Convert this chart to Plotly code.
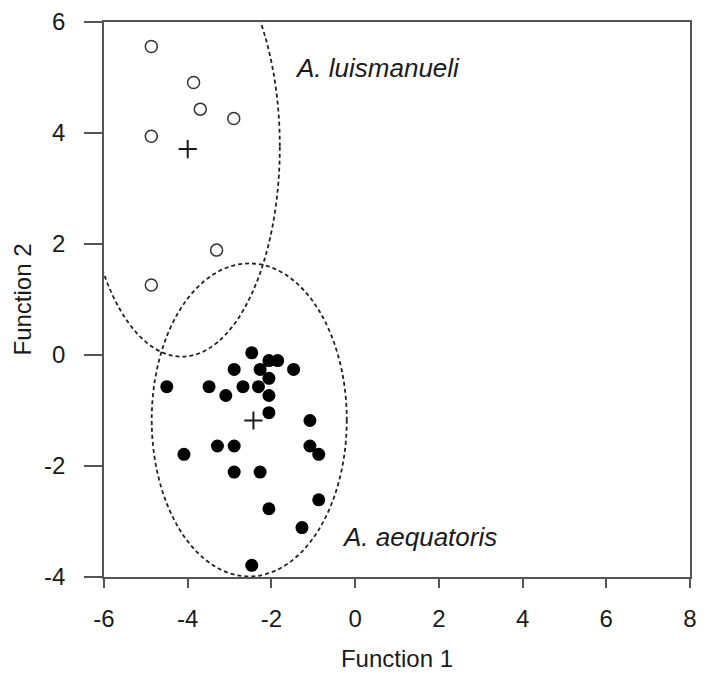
import plotly.graph_objects as go

# --- Data ---
# A. luismanueli (open circles)
lui_x = [-4.87, -3.86, -3.70, -2.90, -4.87, -3.31, -4.87]
lui_y = [5.56, 4.91, 4.43, 4.26, 3.94, 1.89, 1.26]
lui_centroid_x = [-4.00]
lui_centroid_y = [3.71]

# A. aequatoris (filled circles)
aeq_x = [-4.50, -3.49, -3.09, -2.89, -2.68, -2.47, -2.31, -2.27, -2.06, -1.85,
         -2.06, -2.06, -2.06, -1.47, -1.08, -4.09, -3.29, -2.89, -1.08, -0.87,
         -2.89, -2.27, -0.87, -2.06, -1.27, -2.47]
aeq_y = [-0.57, -0.57, -0.73, -0.26, -0.57, 0.04, -0.57, -0.26, -0.10, -0.10,
         -0.42, -0.73, -1.04, -0.26, -1.18, -1.79, -1.64, -1.64, -1.64, -1.79,
         -2.11, -2.11, -2.61, -2.77, -3.11, -3.79]
aeq_centroid_x = [-2.43]
aeq_centroid_y = [-1.18]

# Confidence ellipses: center x, center y, semi-axis x, semi-axis y
ellipse_lui = [-4.14, 3.75, 2.34, 3.78]
ellipse_aeq = [-2.53, -1.17, 2.33, 2.82]

x_ticks = [-6, -4, -2, 0, 2, 4, 6, 8]
y_ticks = [-4, -2, 0, 2, 4, 6]

INK = "#1a1a1a"
AXIS = "#555555"
FONT = "Arial, Liberation Sans, sans-serif"

fig = go.Figure()

fig.add_trace(go.Scatter(
    x=lui_x, y=lui_y, mode="markers",
    marker=dict(symbol="circle", size=12, color="white",
                line=dict(color="#333333", width=1.5)),
    showlegend=False, hoverinfo="skip"))
fig.add_trace(go.Scatter(
    x=aeq_x, y=aeq_y, mode="markers",
    marker=dict(symbol="circle", size=13, color="black",
                line=dict(color="black", width=0)),
    showlegend=False, hoverinfo="skip"))
fig.add_trace(go.Scatter(
    x=lui_centroid_x + aeq_centroid_x, y=lui_centroid_y + aeq_centroid_y,
    mode="markers",
    marker=dict(symbol="cross-thin", size=13, color=INK,
                line=dict(color=INK, width=2)),
    showlegend=False, hoverinfo="skip"))

for cx, cy, a, b in (ellipse_lui, ellipse_aeq):
    fig.add_shape(type="circle", xref="x", yref="y",
                  x0=cx - a, x1=cx + a, y0=cy - b, y1=cy + b,
                  line=dict(color="#222222", width=1.8, dash="4px,3px"),
                  layer="above")

fig.add_annotation(x=-1.49, y=5.17, xref="x", yref="y", text="<i>A. luismanueli</i>",
                   showarrow=False, xanchor="left", yanchor="middle",
                   font=dict(family=FONT, size=26, color=INK))
fig.add_annotation(x=-0.36, y=-3.28, xref="x", yref="y", text="<i>A. aequatoris</i>",
                   showarrow=False, xanchor="left", yanchor="middle",
                   font=dict(family=FONT, size=26, color=INK))

# The page body adds an 8px offset, so margins are set to compensate.
fig.update_layout(
    width=713, height=673,
    margin=dict(l=96, r=31, t=14, b=104, autoexpand=False),
    paper_bgcolor="white", plot_bgcolor="white",
    font=dict(family=FONT, size=24, color=INK),
    showlegend=False,
)
fig.update_xaxes(
    range=[-6, 8], tickvals=x_ticks, ticktext=[str(v) for v in x_ticks],
    showgrid=False, zeroline=False, automargin=False,
    showline=True, linecolor=AXIS, linewidth=1.5, mirror=True,
    ticks="outside", ticklen=9, tickwidth=1.5, tickcolor=AXIS,
    ticklabelstandoff=10,
    title=dict(text="Function 1", standoff=20, font=dict(size=24, color=INK)),
    tickfont=dict(size=24, color=INK),
)
fig.update_yaxes(
    range=[-4, 6], tickvals=y_ticks, ticktext=[str(v) for v in y_ticks],
    showgrid=False, zeroline=False, automargin=False,
    showline=True, linecolor=AXIS, linewidth=1.5, mirror=True,
    ticks="outside", ticklen=18, tickwidth=1.5, tickcolor=AXIS,
    ticklabelstandoff=14,
    title=dict(text="Function 2", standoff=6, font=dict(size=24, color=INK)),
    tickfont=dict(size=24, color=INK),
)

fig.write_html("out.html")
